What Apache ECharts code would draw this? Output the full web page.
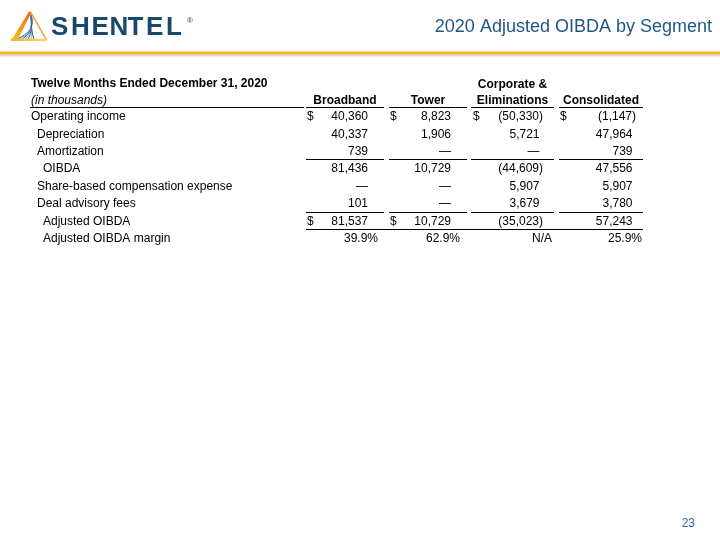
<!DOCTYPE html>
<html>
<head>
<meta charset="utf-8">
<script src="https://cdn.jsdelivr.net/npm/echarts@6/dist/echarts.min.js"></script>
<style>
html,body{margin:0;padding:0;background:#fff;}
#chart{width:720px;height:540px;}
</style>
</head>
<body>
<div id="chart"></div>
<script>
// ---------------- DATA ----------------
const titleText = '2020 Adjusted OIBDA by Segment';
const pageNumber = '23';
const periodLabel = 'Twelve Months Ended December 31, 2020';
const unitsLabel = '(in thousands)';
const rowLabels = [
  'Operating income',
  'Depreciation',
  'Amortization',
  'OIBDA',
  'Share-based compensation expense',
  'Deal advisory fees',
  'Adjusted OIBDA',
  'Adjusted OIBDA margin'
];
const rowIndent = [0, 1, 1, 2, 1, 1, 2, 2];
const rowKind = ['usd', 'usd', 'usd', 'usd', 'usd', 'usd', 'usd', 'pct'];
const columnTitles = [['Broadband'], ['Tower'], ['Corporate &', 'Eliminations'], ['Consolidated']];
const broadband    = [40360, 40337, 739, 81436, null, 101, 81537, 39.9];
const tower        = [8823, 1906, null, 10729, null, null, 10729, 62.9];
const corporate    = [-50330, 5721, null, -44609, 5907, 3679, -35023, null];
const consolidated = [-1147, 47964, 739, 47556, 5907, 3780, 57243, 25.9];
const dollarRows   = [[0, 6], [0, 6], [0], [0]];
const columns = [broadband, tower, corporate, consolidated];

// ---------------- LAYOUT (positions / styles) ----------------
const FONT = '"Liberation Sans", Arial, sans-serif';
const segStart = [306, 389, 471, 559];
const segEnd   = [384, 467, 554, 643];
const dollarX  = [307, 390, 473, 560];
const numRight = [368, 451, 539.5, 632.5];
const pctRight = [378, 460, 552, 642];
const labelX0 = 31, indentStep = 6;
const textDy = 0.8;
const lineBelowRows = [2, 5];   // segmented lines
const fullLineBelowRow = 6;     // continuous line

function fmt(v, kind) {
  if (v === null || v === undefined) return kind === 'pct' ? 'N/A' : '\u2014';
  if (kind === 'pct') return v.toFixed(1) + '%';
  const s = Math.abs(v).toLocaleString('en-US');
  return v < 0 ? '(' + s + ')' : s;
}

function txt(text, x, y, align, font, fill) {
  return {
    type: 'text',
    style: {
      text: text, x: x, y: y,
      textAlign: align, align: align,
      textVerticalAlign: 'middle', verticalAlign: 'middle',
      font: font, fill: fill || '#000'
    }
  };
}
function hline(x1, x2, y, w) {
  return {
    type: 'line',
    shape: { x1: x1, y1: y, x2: x2, y2: y },
    style: { stroke: '#000', lineWidth: w || 1 }
  };
}

function renderRow(params, api) {
  const r = api.value(1);
  const y = api.coord([0, r])[1];
  const band = api.size([0, 1])[1];
  const kids = [];
  const X = function (px) { return api.coord([px, r])[0]; };
  const ty = y + textDy;
  kids.push(txt(rowLabels[r], X(labelX0 + rowIndent[r] * indentStep), ty, 'left', '12px ' + FONT));
  for (let c = 0; c < columns.length; c++) {
    const v = columns[c][r];
    const kind = rowKind[r];
    let right;
    if (kind === 'pct') right = pctRight[c];
    else if (v !== null && v < 0) right = numRight[c] + 3.5;
    else right = numRight[c];
    kids.push(txt(fmt(v, kind), X(right), ty, 'right', '12px ' + FONT));
    if (dollarRows[c].indexOf(r) >= 0) kids.push(txt('$', X(dollarX[c]), ty, 'left', '12px ' + FONT));
  }
  const top = Math.round(y - band / 2) + 0.5;
  const bot = Math.round(y + band / 2) + 0.5;
  if (r === 0) {
    kids.push(hline(X(30), X(304), top, 1.2));
    for (let c = 0; c < 4; c++) kids.push(hline(X(segStart[c]), X(segEnd[c]), top, 1.2));
  }
  if (lineBelowRows.indexOf(r) >= 0) {
    for (let c = 0; c < 4; c++) kids.push(hline(X(segStart[c]), X(segEnd[c]), bot, 1));
  }
  if (r === fullLineBelowRow) kids.push(hline(X(segStart[0]), X(segEnd[3]), bot, 1));
  return { type: 'group', children: kids };
}

// ---------------- header graphics ----------------
const graphics = [];
// gold rule + shadow
graphics.push({ type: 'rect', shape: { x: 0, y: 51.5, width: 720, height: 3 }, style: { fill: '#F8B51C' } });
graphics.push({ type: 'rect', shape: { x: 0, y: 54.5, width: 720, height: 4 },
  style: { fill: new echarts.graphic.LinearGradient(0, 0, 0, 1, [
    { offset: 0, color: '#B8BCC0' }, { offset: 1, color: 'rgba(255,255,255,0)' }]) } });
// title
graphics.push(txt(titleText, 712, 27.5, 'right', '18px ' + FONT, '#1E5784'));
// page number
graphics.push(txt(pageNumber, 695, 524, 'right', '12px ' + FONT, '#2B6CA3'));
// logo icon
const apex = [30, 12];
const fanEnds = [[16, 39.5], [19, 39.5], [22, 39.5], [25, 39.5], [28, 39.5], [31, 39.5], [34, 39.5]];
fanEnds.forEach(function (e, i) {
  graphics.push({ type: 'bezierCurve',
    shape: { x1: apex[0] + 1, y1: apex[1] + 3, cpx1: 37 - i, cpy1: 31, x2: e[0], y2: e[1] },
    style: { stroke: i % 2 ? '#8FB3D3' : '#1F5A8A', lineWidth: 1, fill: null } });
});
graphics.push({ type: 'polygon', shape: { points: [[29, 11.5], [31.5, 12.5], [17, 41], [11, 41]] },
  style: { fill: new echarts.graphic.LinearGradient(0, 0, 0, 1, [
    { offset: 0, color: '#E56A1E' }, { offset: 1, color: '#F9BF22' }]) } });
graphics.push({ type: 'line', shape: { x1: 30.5, y1: 12, x2: 46.5, y2: 40 }, style: { stroke: '#EE9A2E', lineWidth: 1.5 } });
graphics.push({ type: 'polygon', shape: { points: [[11, 38.8], [46, 38.8], [47, 41], [11, 41]] },
  style: { fill: new echarts.graphic.LinearGradient(0, 0, 1, 0, [
    { offset: 0, color: '#F6B21E' }, { offset: 1, color: '#FBD776' }]) } });
// SHENTEL wordmark
const logoLetters = ['S', 'H', 'E', 'N', 'T', 'E', 'L'];
const logoX = [51, 71, 91.5, 109.5, 127.5, 146, 166];
logoLetters.forEach(function (l, i) {
  graphics.push({ type: 'text', style: { text: l, x: logoX[i], y: 28, textAlign: 'left', align: 'left',
    textVerticalAlign: 'middle', verticalAlign: 'middle', font: 'bold 26px ' + FONT, fill: '#17496D' } });
});
graphics.push(txt('\u00AE', 187, 21, 'left', '8px ' + FONT, '#17496D'));
// table header
graphics.push(txt(periodLabel, 31, 84, 'left', 'bold 12px ' + FONT));
graphics.push(txt(unitsLabel, 31, 100.5, 'left', 'italic 12px ' + FONT));
columnTitles.forEach(function (lines, c) {
  const cx = (segStart[c] + segEnd[c]) / 2;
  if (lines.length === 1) graphics.push(txt(lines[0], cx, 100.5, 'center', 'bold 12px ' + FONT));
  else {
    graphics.push(txt(lines[0], cx, 85, 'center', 'bold 12px ' + FONT));
    graphics.push(txt(lines[1], cx, 100.5, 'center', 'bold 12px ' + FONT));
  }
});

const chart = echarts.init(document.getElementById('chart'), null, { renderer: 'canvas' });
chart.setOption({
  animation: false,
  backgroundColor: '#fff',
  grid: { left: 0, right: 0, top: 107.3, height: 139.2, containLabel: false },
  xAxis: { type: 'value', min: 0, max: 720, show: false },
  yAxis: { type: 'category', data: rowLabels, inverse: true, show: false },
  series: [{
    type: 'custom',
    clip: false,
    renderItem: renderRow,
    data: rowLabels.map(function (l, i) { return [0, i]; }),
    encode: { x: 0, y: 1 }
  }],
  graphic: graphics
});
</script>
</body>
</html>
